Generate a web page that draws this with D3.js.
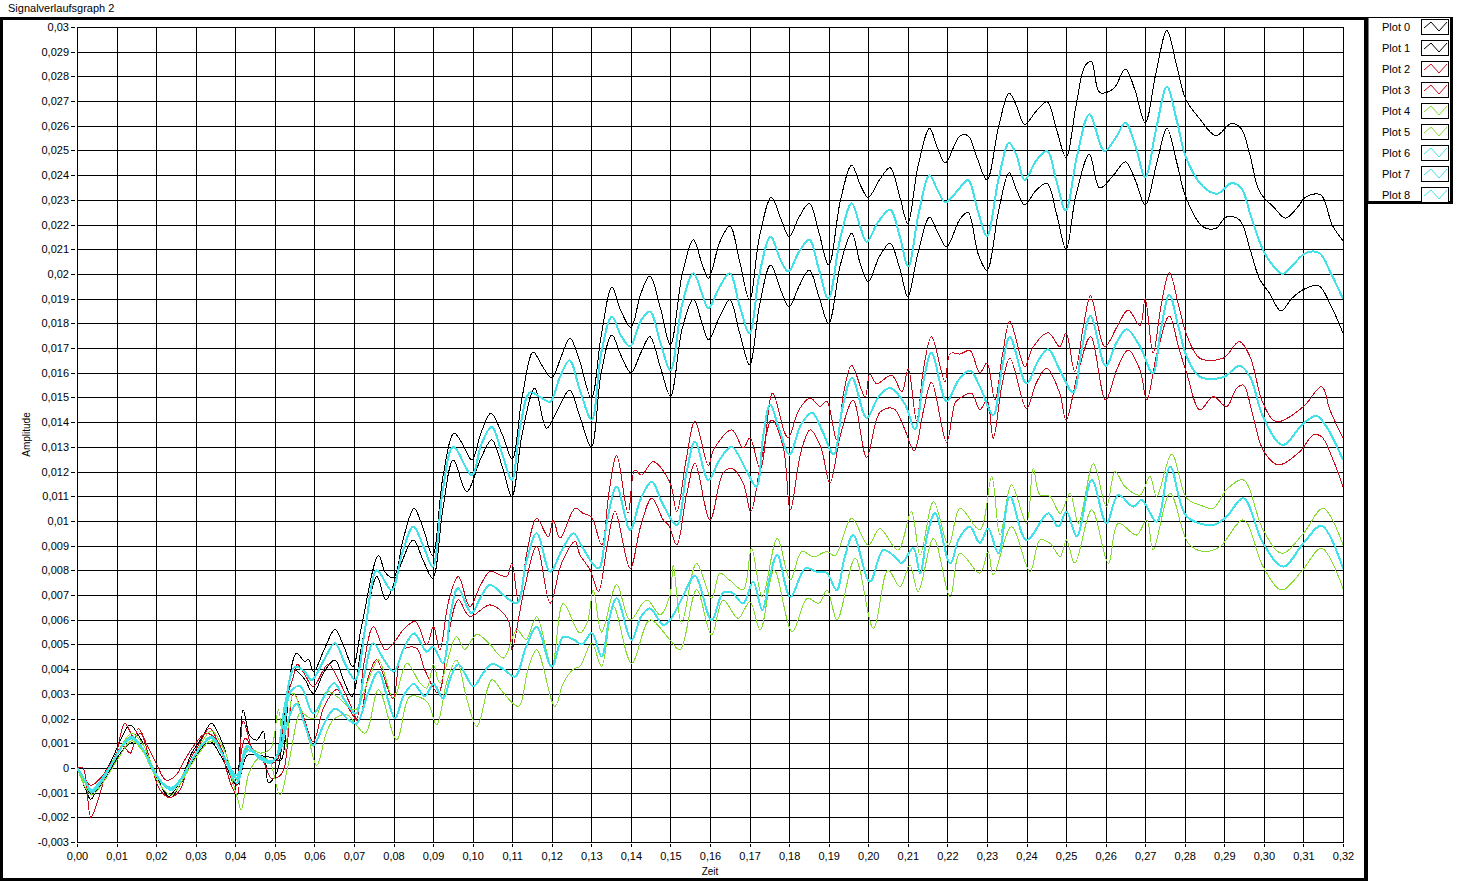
<!DOCTYPE html>
<html>
<head>
<meta charset="utf-8">
<script src="https://cdn.jsdelivr.net/npm/d3@7"></script>
<style>
  html, body { margin: 0; padding: 0; background: #ffffff; }
  svg { display: block; }
  text { font-family: "Liberation Sans", Arial, sans-serif; fill: #000; }
</style>
</head>
<body>
<svg id="chart" width="1465" height="881"></svg>
<script>
// ---------------- DATA ----------------
const chartTitle = "Signalverlaufsgraph 2";
const xAxisTitle = "Zeit";
const yAxisTitle = "Amplitude";

const xTickLabels = ["0,00","0,01","0,02","0,03","0,04","0,05","0,06","0,07","0,08","0,09","0,10",
  "0,11","0,12","0,13","0,14","0,15","0,16","0,17","0,18","0,19","0,20","0,21","0,22","0,23",
  "0,24","0,25","0,26","0,27","0,28","0,29","0,30","0,31","0,32"];
const yTickLabels = ["0,03","0,029","0,028","0,027","0,026","0,025","0,024","0,023","0,022","0,021",
  "0,02","0,019","0,018","0,017","0,016","0,015","0,014","0,013","0,012","0,011","0,01","0,009",
  "0,008","0,007","0,006","0,005","0,004","0,003","0,002","0,001","0","-0,001","-0,002","-0,003"];

const seriesNames = ["Plot 0","Plot 1","Plot 2","Plot 3","Plot 4","Plot 5","Plot 6","Plot 7","Plot 8"];
const seriesColors = ["#000000","#000000","#c80c1c","#c80c1c","#84dc30","#84dc30","#40e2e8","#40e2e8","#40e2e8"];

// Plot 0 : black, upper
const plot0 = [[0,0],[0.002,-0.0008],[0.0035,-0.00127],[0.006,-0.0005],[0.009,0.0004],[0.0115,0.0013],[0.0134,0.00174],[0.016,0.0012],[0.019,0.0001],[0.0215,-0.0008],[0.0231,-0.00116],[0.0262,-0.0005],[0.029,0.0006],[0.0315,0.0012],[0.034,0.0018],[0.037,0.0009],[0.0402,-0.0007],[0.042,0.00235],[0.0437,0.0013],[0.0454,0.00113],[0.0471,0.00147],[0.0484,-0.0006],[0.0505,-0.0002],[0.053,0.0028],[0.0555,0.00465],[0.0576,0.0043],[0.0585,0.0044],[0.0598,0.0039],[0.0625,0.0048],[0.0652,0.0056],[0.0675,0.0049],[0.0697,0.0041],[0.072,0.0058],[0.0762,0.0086],[0.078,0.0079],[0.08,0.0077],[0.0825,0.0093],[0.0852,0.0105],[0.0875,0.0097],[0.0899,0.0086],[0.0925,0.0118],[0.0953,0.01355],[0.0975,0.0131],[0.0998,0.01247],[0.1022,0.0136],[0.1046,0.01436],[0.1075,0.0135],[0.11,0.0125],[0.1125,0.015],[0.1153,0.01684],[0.1175,0.0163],[0.12,0.0158],[0.1225,0.0167],[0.1246,0.0174],[0.1271,0.01645],[0.13,0.01497],[0.1325,0.0175],[0.1352,0.01946],[0.1375,0.0185],[0.14,0.01784],[0.1425,0.0192],[0.1448,0.01992],[0.1475,0.0186],[0.15,0.01713],[0.153,0.02],[0.1558,0.02138],[0.158,0.0204],[0.1596,0.01983],[0.1625,0.0213],[0.165,0.02194],[0.1675,0.0205],[0.17,0.01895],[0.1725,0.0215],[0.1755,0.0231],[0.178,0.0222],[0.18,0.02151],[0.1825,0.0223],[0.1851,0.02286],[0.1875,0.0217],[0.19,0.02036],[0.193,0.023],[0.1958,0.0244],[0.198,0.0236],[0.2,0.0231],[0.2028,0.0238],[0.2055,0.0243],[0.208,0.0231],[0.21,0.02205],[0.2125,0.0243],[0.2155,0.0259],[0.2175,0.0251],[0.2195,0.0245],[0.2231,0.02558],[0.2252,0.0256],[0.2275,0.0247],[0.23,0.0238],[0.233,0.026],[0.2356,0.02732],[0.2375,0.0268],[0.2395,0.02605],[0.2425,0.0266],[0.2452,0.02697],[0.2475,0.0259],[0.25,0.02472],[0.2525,0.0268],[0.2548,0.02843],[0.2564,0.0286],[0.2585,0.02735],[0.262,0.0275],[0.265,0.0283],[0.2675,0.0274],[0.27,0.02612],[0.2728,0.0282],[0.2755,0.02985],[0.278,0.0284],[0.2803,0.02706],[0.2837,0.0263],[0.2879,0.0256],[0.2917,0.02609],[0.2942,0.0259],[0.2965,0.0248],[0.2989,0.02334],[0.3025,0.0227],[0.3055,0.02226],[0.3085,0.0227],[0.3106,0.02312],[0.3144,0.0232],[0.3173,0.02197],[0.32,0.02135]];

// Plot 1 : black, lower
const plot1 = [[0,0],[0.002,-0.0006],[0.0037,-0.0011],[0.006,-0.0007],[0.009,0.0001],[0.012,0.0008],[0.0147,0.00107],[0.017,0.0007],[0.0195,-0.0001],[0.0215,-0.0008],[0.0236,-0.0012],[0.026,-0.0007],[0.029,0.0002],[0.0315,0.0008],[0.0337,0.00107],[0.037,0.0003],[0.0404,-0.0007],[0.043,0.0005],[0.046,0.0005],[0.0497,0.0004],[0.0515,0.0003],[0.0547,0.00397],[0.0575,0.0036],[0.0597,0.00302],[0.0625,0.0039],[0.0652,0.00437],[0.0675,0.0035],[0.0695,0.00289],[0.072,0.005],[0.0758,0.00775],[0.0781,0.0068],[0.0815,0.0081],[0.085,0.00923],[0.0875,0.0084],[0.0899,0.00768],[0.0925,0.0105],[0.0951,0.01247],[0.0985,0.01119],[0.102,0.0125],[0.1048,0.01328],[0.1075,0.0122],[0.1099,0.01098],[0.1125,0.0135],[0.1157,0.01537],[0.1187,0.01375],[0.1215,0.0145],[0.1245,0.0153],[0.1271,0.01422],[0.13,0.013],[0.1325,0.016],[0.1352,0.01753],[0.1375,0.0167],[0.14,0.016],[0.1425,0.0168],[0.1448,0.01746],[0.1475,0.0162],[0.15,0.01506],[0.153,0.0178],[0.1558,0.01898],[0.158,0.018],[0.1596,0.01733],[0.1625,0.0183],[0.165,0.01895],[0.1675,0.0176],[0.17,0.01632],[0.1725,0.0187],[0.1753,0.02036],[0.178,0.0193],[0.18,0.01867],[0.1825,0.0195],[0.1851,0.02016],[0.1875,0.0191],[0.19,0.018],[0.193,0.0204],[0.1958,0.02165],[0.198,0.0204],[0.2,0.01969],[0.2028,0.0207],[0.2055,0.02124],[0.208,0.0202],[0.21,0.01908],[0.2125,0.0208],[0.2155,0.0223],[0.2175,0.0217],[0.2198,0.0211],[0.2231,0.0222],[0.2252,0.0225],[0.2278,0.0208],[0.23,0.02015],[0.233,0.0226],[0.2356,0.0241],[0.2375,0.0234],[0.2395,0.0228],[0.2425,0.0234],[0.2452,0.02367],[0.2475,0.0225],[0.25,0.021],[0.2525,0.0232],[0.2559,0.02484],[0.2585,0.02348],[0.262,0.024],[0.265,0.02454],[0.2675,0.0238],[0.27,0.0228],[0.2728,0.0244],[0.2755,0.02589],[0.278,0.0245],[0.2803,0.0231],[0.2845,0.02192],[0.2879,0.02185],[0.2904,0.0223],[0.2938,0.0222],[0.2965,0.021],[0.2989,0.0198],[0.3015,0.0192],[0.3043,0.0185],[0.307,0.019],[0.31,0.01937],[0.3138,0.01953],[0.317,0.0187],[0.32,0.0176]];

// Plot 2 : red, upper
const plot2 = [[0,0],[0.0035,-0.0007],[0.006,-0.0004],[0.009,0.0003],[0.0115,0.0009],[0.0135,0.0006],[0.0155,0.0016],[0.0175,0.001],[0.02,0.0002],[0.0225,-0.0005],[0.025,-0.0003],[0.0275,0.0004],[0.03,0.001],[0.0325,0.0014],[0.035,0.0012],[0.0375,0.0004],[0.04,-0.0008],[0.0425,0.0012],[0.045,0.0006],[0.048,0.0002],[0.0505,0.0003],[0.0525,0.0025],[0.0547,0.0037],[0.0557,0.0042],[0.0575,0.0038],[0.0597,0.0033],[0.0635,0.0042],[0.066,0.0036],[0.069,0.0026],[0.0707,0.002],[0.0725,0.0042],[0.0749,0.00572],[0.0779,0.00478],[0.08,0.00505],[0.0825,0.0056],[0.0855,0.00593],[0.0884,0.00498],[0.0901,0.00572],[0.0917,0.00478],[0.094,0.0068],[0.0964,0.00775],[0.0993,0.00653],[0.102,0.0074],[0.1044,0.00795],[0.1086,0.00775],[0.1099,0.00829],[0.1116,0.00672],[0.1138,0.0088],[0.1162,0.0101],[0.1191,0.00936],[0.1204,0.01004],[0.1221,0.0093],[0.1259,0.01051],[0.128,0.0103],[0.13,0.01017],[0.1326,0.00903],[0.1345,0.0112],[0.1364,0.01267],[0.1393,0.01031],[0.141,0.01206],[0.1427,0.01186],[0.1456,0.0124],[0.1498,0.01159],[0.1516,0.01038],[0.154,0.0125],[0.1562,0.01403],[0.1596,0.01224],[0.1609,0.01288],[0.1655,0.01369],[0.1684,0.01295],[0.1701,0.01336],[0.1727,0.0121],[0.1758,0.01518],[0.1789,0.01356],[0.1798,0.01336],[0.1825,0.0145],[0.1853,0.01498],[0.1878,0.01464],[0.1895,0.01484],[0.192,0.01329],[0.1938,0.0152],[0.1958,0.0163],[0.1992,0.01502],[0.2004,0.01596],[0.2021,0.01556],[0.2059,0.0159],[0.2085,0.01523],[0.2101,0.01617],[0.2122,0.01408],[0.214,0.0162],[0.216,0.01746],[0.2194,0.01563],[0.2207,0.01678],[0.2232,0.01676],[0.2257,0.0169],[0.2282,0.016],[0.23,0.0164],[0.232,0.0149],[0.234,0.0168],[0.2358,0.01807],[0.2396,0.01625],[0.2415,0.017],[0.2455,0.01762],[0.2484,0.01706],[0.25,0.0176],[0.2522,0.01605],[0.2545,0.018],[0.2562,0.01911],[0.2598,0.01706],[0.263,0.0179],[0.2657,0.01854],[0.2687,0.0179],[0.27,0.019],[0.272,0.01679],[0.274,0.0187],[0.2761,0.02005],[0.2785,0.0187],[0.2805,0.01753],[0.2838,0.01659],[0.2897,0.01659],[0.2938,0.01726],[0.2965,0.01665],[0.2998,0.01476],[0.3032,0.01402],[0.31,0.01463],[0.3146,0.01544],[0.3167,0.01449],[0.32,0.01335]];

// Plot 3 : red, lower
const plot3 = [[0,0],[0.0015,0],[0.0035,-0.002],[0.0055,-0.0012],[0.0075,-0.0002],[0.0095,0.0003],[0.0121,0.0018],[0.0145,0.0012],[0.016,0.0014],[0.0185,0.0003],[0.021,-0.0009],[0.0235,-0.0012],[0.026,-0.0009],[0.0285,0.0003],[0.031,0.001],[0.0335,0.0016],[0.036,0.0009],[0.039,-0.0007],[0.0405,-0.0011],[0.042,0.0019],[0.0445,0.0007],[0.047,0.0003],[0.049,-0.0004],[0.0505,-0.0004],[0.0522,-0.0001],[0.0547,0.00303],[0.057,0.0022],[0.0597,0.00107],[0.0625,0.0025],[0.0657,0.00317],[0.068,0.0026],[0.0711,0.0019],[0.0735,0.0036],[0.0757,0.00437],[0.0798,0.00282],[0.0824,0.00478],[0.0858,0.00485],[0.0879,0.00397],[0.0913,0.00303],[0.094,0.0055],[0.0964,0.0068],[0.0993,0.00613],[0.1044,0.0066],[0.109,0.00599],[0.1099,0.00478],[0.113,0.0072],[0.1162,0.00896],[0.1196,0.00667],[0.1225,0.0083],[0.1259,0.00917],[0.1271,0.00863],[0.1297,0.00802],[0.1318,0.00714],[0.134,0.009],[0.136,0.01038],[0.1398,0.00808],[0.1425,0.0098],[0.1453,0.01092],[0.1482,0.01004],[0.1495,0.00984],[0.1516,0.00903],[0.154,0.011],[0.1562,0.01233],[0.16,0.01004],[0.1633,0.01193],[0.1655,0.01213],[0.1684,0.01153],[0.1703,0.01038],[0.173,0.0125],[0.1756,0.01409],[0.1785,0.013],[0.1803,0.01044],[0.183,0.0128],[0.1853,0.01369],[0.188,0.013],[0.1903,0.01153],[0.193,0.0135],[0.1962,0.01489],[0.1996,0.01258],[0.203,0.01441],[0.2064,0.01455],[0.209,0.0138],[0.2116,0.01285],[0.214,0.0145],[0.216,0.01562],[0.2198,0.01319],[0.222,0.0148],[0.2232,0.01497],[0.2261,0.01517],[0.2282,0.0145],[0.23,0.0149],[0.2316,0.01335],[0.2338,0.0155],[0.2358,0.01659],[0.24,0.01456],[0.2425,0.0156],[0.2451,0.01618],[0.2484,0.01517],[0.25,0.01409],[0.253,0.016],[0.2562,0.01746],[0.26,0.0149],[0.263,0.0162],[0.2657,0.01692],[0.2687,0.01611],[0.2704,0.0149],[0.273,0.0168],[0.2761,0.0183],[0.2785,0.017],[0.2805,0.01598],[0.2838,0.0145],[0.2872,0.01503],[0.2906,0.01463],[0.2931,0.01537],[0.2948,0.0155],[0.2973,0.01422],[0.2998,0.01287],[0.3036,0.01227],[0.3091,0.01281],[0.3125,0.01348],[0.3146,0.01341],[0.3175,0.01247],[0.32,0.01139]];

// Plot 4 : green, upper
const plot4 = [[0,0],[0.0037,-0.0009],[0.007,-0.0003],[0.0105,0.0007],[0.0138,0.0014],[0.0165,0.001],[0.019,0.0001],[0.0215,-0.0006],[0.024,-0.0009],[0.027,-0.0002],[0.03,0.0006],[0.034,0.0015],[0.037,0.0008],[0.0405,-0.0005],[0.043,0.0008],[0.0465,0.0006],[0.049,0.0008],[0.0509,0.00235],[0.0525,0.0006],[0.0547,0.00303],[0.0572,0.00222],[0.06,0.002],[0.0631,0.00309],[0.0657,0.00289],[0.0703,0.00235],[0.0735,0.0035],[0.0762,0.00437],[0.08,0.00282],[0.0834,0.00424],[0.0867,0.00343],[0.0884,0.00323],[0.0901,0.00417],[0.0917,0.00343],[0.0959,0.00532],[0.098,0.0048],[0.1011,0.00541],[0.1044,0.005],[0.1078,0.00445],[0.1112,0.00559],[0.1135,0.0052],[0.1162,0.00612],[0.12,0.0041],[0.1229,0.00666],[0.1271,0.00546],[0.129,0.0059],[0.1305,0.0072],[0.1326,0.0055],[0.1364,0.00741],[0.1398,0.00599],[0.144,0.0068],[0.1474,0.0062],[0.1499,0.007],[0.1507,0.00822],[0.1528,0.00586],[0.1566,0.00828],[0.1604,0.00687],[0.1625,0.00788],[0.165,0.0076],[0.1684,0.00721],[0.1705,0.00889],[0.1732,0.00693],[0.177,0.00929],[0.1803,0.00761],[0.1832,0.00876],[0.1862,0.00855],[0.1895,0.00876],[0.1916,0.0086],[0.1958,0.0101],[0.2,0.00902],[0.2029,0.00969],[0.2075,0.00882],[0.2109,0.01038],[0.2131,0.00862],[0.2165,0.01078],[0.2203,0.00902],[0.2232,0.01051],[0.2282,0.00964],[0.2312,0.0118],[0.2333,0.00943],[0.2362,0.01146],[0.24,0.00991],[0.2417,0.01213],[0.2434,0.01105],[0.2459,0.01099],[0.2485,0.01031],[0.251,0.01112],[0.2531,0.00991],[0.2569,0.01231],[0.2602,0.01058],[0.2624,0.012],[0.2649,0.01139],[0.2687,0.01105],[0.2712,0.0118],[0.2729,0.01099],[0.2767,0.01271],[0.2805,0.01092],[0.2838,0.01065],[0.2872,0.01051],[0.2906,0.01128],[0.2948,0.01166],[0.2998,0.00964],[0.3045,0.00869],[0.31,0.0095],[0.315,0.01051],[0.32,0.00903]];

// Plot 5 : green, lower
const plot5 = [[0,0],[0.0037,-0.0011],[0.007,-0.0005],[0.0105,0.0004],[0.0138,0.0011],[0.0165,0.0007],[0.019,-0.0001],[0.0215,-0.0008],[0.0239,-0.0011],[0.027,-0.0004],[0.03,0.0004],[0.034,0.0011],[0.0375,0.0003],[0.0405,-0.0012],[0.0415,-0.0017],[0.0435,-0.0002],[0.046,0.0004],[0.0485,0.0003],[0.0513,-0.0011],[0.0535,0.0002],[0.0564,0.00222],[0.0585,0.0012],[0.0606,0.0001],[0.063,0.0014],[0.0648,0.00195],[0.0682,0.00215],[0.0728,0.00141],[0.0762,0.00316],[0.0808,0.00114],[0.0842,0.00289],[0.0884,0.00269],[0.0909,0.00175],[0.0935,0.0035],[0.0959,0.00437],[0.0985,0.0028],[0.1011,0.00168],[0.1049,0.00357],[0.1078,0.00303],[0.1116,0.00249],[0.114,0.004],[0.1162,0.00478],[0.1208,0.00249],[0.1229,0.00343],[0.1255,0.004],[0.1271,0.00411],[0.1301,0.00505],[0.1326,0.00411],[0.1356,0.00653],[0.1402,0.00424],[0.1448,0.00599],[0.1499,0.00518],[0.1524,0.00478],[0.1566,0.00721],[0.1604,0.00538],[0.1633,0.0068],[0.1671,0.00606],[0.1701,0.00673],[0.1727,0.00558],[0.1762,0.00801],[0.1808,0.00552],[0.1846,0.00687],[0.1875,0.00666],[0.1896,0.00721],[0.1921,0.00599],[0.1967,0.00849],[0.2013,0.00565],[0.205,0.00801],[0.208,0.00734],[0.2105,0.00822],[0.2126,0.00714],[0.2165,0.00929],[0.2207,0.00693],[0.2232,0.00869],[0.2282,0.00788],[0.2303,0.00876],[0.2316,0.00781],[0.2362,0.00977],[0.2409,0.00795],[0.2434,0.00923],[0.2459,0.0091],[0.2485,0.00856],[0.2501,0.00923],[0.2522,0.00829],[0.2565,0.01045],[0.2607,0.00829],[0.2632,0.00991],[0.2678,0.00943],[0.2704,0.01004],[0.272,0.00883],[0.2763,0.01112],[0.2809,0.0091],[0.2847,0.00876],[0.2889,0.00896],[0.2948,0.01004],[0.2998,0.00815],[0.3045,0.00721],[0.3095,0.00795],[0.3146,0.00889],[0.32,0.00727]];

// Plot 6 : cyan, mean of black pair
const plot6 = [[0,0],[0.002,-0.0005],[0.0037,-0.00096],[0.006,-0.0006],[0.009,0.0002],[0.0115,0.0009],[0.0138,0.00127],[0.0165,0.0008],[0.019,0],[0.0215,-0.0006],[0.0239,-0.00082],[0.0265,-0.0004],[0.029,0.0003],[0.0315,0.0009],[0.034,0.00127],[0.037,0.0005],[0.0404,-0.0004],[0.0429,0.00086],[0.046,0.00046],[0.0497,0.0003],[0.0525,0.0025],[0.0551,0.0041],[0.0575,0.0039],[0.0593,0.00356],[0.0625,0.0044],[0.0652,0.00505],[0.0678,0.0042],[0.0703,0.00356],[0.073,0.0058],[0.0758,0.008],[0.0795,0.0072],[0.0822,0.0087],[0.085,0.00977],[0.0875,0.009],[0.0899,0.00815],[0.0925,0.0113],[0.0951,0.013],[0.0998,0.01186],[0.1022,0.0131],[0.1048,0.0138],[0.1075,0.0127],[0.1099,0.01166],[0.112,0.0138],[0.1145,0.0152],[0.1172,0.015],[0.1196,0.01483],[0.122,0.0158],[0.1245,0.0165],[0.1271,0.0153],[0.1301,0.0141],[0.1325,0.0168],[0.1352,0.01827],[0.1375,0.0175],[0.1398,0.01706],[0.1425,0.0181],[0.1448,0.01848],[0.1475,0.0172],[0.15,0.0161],[0.153,0.0188],[0.1558,0.02003],[0.158,0.0192],[0.1596,0.01861],[0.1625,0.0195],[0.165,0.02003],[0.1675,0.0187],[0.17,0.0176],[0.1725,0.02],[0.1753,0.0215],[0.178,0.0205],[0.1798,0.0201],[0.1825,0.0209],[0.1851,0.02138],[0.1875,0.0202],[0.1899,0.019],[0.193,0.0215],[0.1958,0.02286],[0.198,0.0219],[0.1996,0.0213],[0.2025,0.0221],[0.2055,0.0226],[0.208,0.0215],[0.2101,0.0203],[0.2128,0.0225],[0.2155,0.024],[0.2175,0.0234],[0.2195,0.0229],[0.2231,0.02348],[0.2252,0.0238],[0.2278,0.0225],[0.23,0.02154],[0.233,0.0239],[0.2356,0.02531],[0.2375,0.0248],[0.2395,0.0238],[0.2425,0.0246],[0.2452,0.02498],[0.2475,0.0238],[0.2499,0.02257],[0.2528,0.0248],[0.2559,0.02646],[0.2597,0.02498],[0.2625,0.0255],[0.265,0.02612],[0.2675,0.0252],[0.27,0.02392],[0.2728,0.0259],[0.2755,0.02758],[0.278,0.0262],[0.2803,0.02473],[0.2845,0.02356],[0.2883,0.02325],[0.2917,0.02367],[0.2942,0.0235],[0.2968,0.0223],[0.2997,0.021],[0.3025,0.0203],[0.3047,0.02],[0.3075,0.0204],[0.3106,0.02085],[0.314,0.02085],[0.317,0.02],[0.32,0.019]];

// Plot 7 : cyan, mean of red pair
const plot7 = [[0,0],[0.002,-0.0005],[0.0037,-0.0009],[0.006,-0.0005],[0.009,0.0002],[0.0115,0.0009],[0.014,0.0012],[0.0165,0.0008],[0.019,0],[0.0215,-0.0006],[0.024,-0.0008],[0.0265,-0.0004],[0.029,0.0003],[0.0315,0.0009],[0.034,0.0012],[0.037,0.0005],[0.0404,-0.0003],[0.043,0.0009],[0.046,0.0004],[0.049,0.0002],[0.0515,0.0008],[0.054,0.0031],[0.0565,0.0033],[0.0597,0.0022],[0.0625,0.0029],[0.065,0.00343],[0.0678,0.0027],[0.0705,0.0022],[0.0725,0.0037],[0.0749,0.00505],[0.0775,0.0044],[0.0801,0.0039],[0.0825,0.0048],[0.0852,0.00545],[0.0884,0.00471],[0.09,0.0049],[0.0925,0.00424],[0.0945,0.0063],[0.0963,0.00728],[0.0997,0.00627],[0.102,0.0069],[0.1044,0.00741],[0.1078,0.007],[0.1112,0.00667],[0.1135,0.0083],[0.1162,0.0095],[0.1196,0.00795],[0.1225,0.0088],[0.1255,0.0095],[0.1275,0.009],[0.1318,0.00808],[0.134,0.01],[0.1364,0.01139],[0.1398,0.00964],[0.1425,0.0109],[0.1453,0.01159],[0.148,0.0107],[0.1516,0.00984],[0.154,0.0119],[0.1562,0.01321],[0.1596,0.01166],[0.1625,0.0125],[0.1655,0.013],[0.169,0.0121],[0.1717,0.01139],[0.1735,0.0135],[0.1752,0.01472],[0.1775,0.0137],[0.1801,0.01269],[0.183,0.0139],[0.1858,0.01438],[0.1885,0.0136],[0.1913,0.01269],[0.1935,0.0146],[0.1959,0.01579],[0.1996,0.01417],[0.2025,0.015],[0.2055,0.01538],[0.2093,0.01472],[0.2118,0.0137],[0.214,0.0157],[0.216,0.0168],[0.2198,0.01485],[0.2228,0.0157],[0.2257,0.01609],[0.2282,0.01544],[0.2316,0.01429],[0.2338,0.0162],[0.2358,0.01744],[0.24,0.01557],[0.243,0.0165],[0.2455,0.01695],[0.2484,0.01611],[0.2518,0.0152],[0.254,0.017],[0.2562,0.0183],[0.26,0.01628],[0.2627,0.0172],[0.2653,0.01776],[0.2687,0.01706],[0.2719,0.01598],[0.274,0.0178],[0.2761,0.01915],[0.2785,0.0178],[0.2805,0.01665],[0.2838,0.01584],[0.2897,0.01582],[0.2939,0.01628],[0.2965,0.01584],[0.2998,0.01422],[0.3047,0.01308],[0.31,0.01395],[0.3133,0.01425],[0.3158,0.01382],[0.32,0.01247]];

// Plot 8 : cyan, mean of green pair
const plot8 = [[0,0],[0.002,-0.0005],[0.0037,-0.001],[0.006,-0.0006],[0.009,0.0002],[0.0115,0.0009],[0.0138,0.0012],[0.0165,0.0008],[0.019,0],[0.0215,-0.0006],[0.0239,-0.0009],[0.0265,-0.0004],[0.029,0.0003],[0.0315,0.0009],[0.034,0.0012],[0.037,0.0005],[0.0404,-0.0006],[0.043,0.0007],[0.046,0.0005],[0.0488,0.0002],[0.0513,0.0007],[0.0535,0.002],[0.0555,0.0026],[0.0575,0.0018],[0.0597,0.0009],[0.0625,0.0018],[0.0652,0.0024],[0.069,0.0019],[0.0707,0.0018],[0.0735,0.003],[0.0762,0.0039],[0.0785,0.0028],[0.0804,0.002],[0.0825,0.0029],[0.0851,0.0034],[0.0879,0.0029],[0.0901,0.0034],[0.0926,0.0028],[0.0945,0.0037],[0.0964,0.0042],[0.1002,0.0033],[0.1025,0.0038],[0.1049,0.0042],[0.1078,0.004],[0.1107,0.0037],[0.1135,0.0049],[0.1162,0.0057],[0.12,0.0041],[0.1229,0.0053],[0.1255,0.0052],[0.1276,0.005],[0.1301,0.00546],[0.1326,0.00451],[0.1345,0.006],[0.1364,0.00687],[0.1402,0.00518],[0.1425,0.0061],[0.1448,0.00646],[0.1482,0.00579],[0.1499,0.00599],[0.153,0.0069],[0.1562,0.00777],[0.1604,0.00599],[0.1633,0.0071],[0.1655,0.0071],[0.1684,0.00666],[0.1709,0.00754],[0.1732,0.00639],[0.1752,0.0078],[0.177,0.00862],[0.1803,0.00693],[0.1841,0.00808],[0.187,0.00794],[0.1895,0.0079],[0.192,0.0072],[0.194,0.0085],[0.1962,0.00943],[0.2004,0.00754],[0.2038,0.00882],[0.2071,0.00849],[0.2084,0.00828],[0.2114,0.0089],[0.2131,0.00788],[0.215,0.0095],[0.2169,0.01031],[0.2207,0.00828],[0.223,0.0093],[0.2257,0.00977],[0.2282,0.0091],[0.2303,0.0097],[0.2329,0.00869],[0.2358,0.01099],[0.24,0.00923],[0.2455,0.01031],[0.248,0.00977],[0.2501,0.01038],[0.2527,0.00937],[0.2565,0.01166],[0.2602,0.00991],[0.2632,0.01105],[0.267,0.01058],[0.2691,0.01085],[0.2729,0.00997],[0.2763,0.0122],[0.2805,0.01018],[0.2872,0.00984],[0.2906,0.01018],[0.2948,0.01092],[0.2998,0.0091],[0.3049,0.00815],[0.31,0.0091],[0.3146,0.0098],[0.32,0.00808]];

const seriesData = [plot0, plot1, plot2, plot3, plot4, plot5, plot6, plot7, plot8];
const seriesWidths = [1, 1, 1, 1, 1, 1, 2, 2, 2];

// ---------------- CHART ----------------
const svg = d3.select("#chart");
const plot = { left: 77, right: 1343, top: 27, bottom: 842 };

const parseNum = s => +s.replace(",", ".");
const xTickValues = xTickLabels.map(parseNum);
const yTickValues = yTickLabels.map(parseNum);

const x = d3.scaleLinear().domain([0, 0.32]).range([plot.left, plot.right]);
const y = d3.scaleLinear().domain([-0.003, 0.03]).range([plot.bottom, plot.top]);

svg.append("rect").attr("x", 0).attr("y", 0).attr("width", 1465).attr("height", 881).attr("fill", "#ffffff");
svg.append("rect")
  .attr("x", 1.5).attr("y", 18.5).attr("width", 1364).attr("height", 861)
  .attr("fill", "none").attr("stroke", "#000").attr("stroke-width", 3);

svg.append("text").attr("x", 8).attr("y", 12).attr("font-size", 11).text(chartTitle);

const grid = svg.append("g").attr("shape-rendering", "crispEdges");
grid.selectAll("line.vx").data(xTickValues).enter().append("line")
  .attr("x1", d => Math.round(x(d)) + 0.5).attr("x2", d => Math.round(x(d)) + 0.5)
  .attr("y1", plot.top).attr("y2", plot.bottom + 5)
  .attr("stroke", "#000").attr("stroke-width", 1);
grid.selectAll("line.hy").data(yTickValues).enter().append("line")
  .attr("y1", d => Math.round(y(d)) + 0.5).attr("y2", d => Math.round(y(d)) + 0.5)
  .attr("x1", plot.left - 6).attr("x2", plot.right)
  .attr("stroke", "#000").attr("stroke-width", 1);
grid.selectAll("line.gx").data(yTickValues).enter().append("line")
  .attr("y1", d => Math.round(y(d)) + 0.5).attr("y2", d => Math.round(y(d)) + 0.5)
  .attr("x1", plot.left - 2).attr("x2", plot.left)
  .attr("stroke", "#fff").attr("stroke-width", 1);
grid.selectAll("line.gy").data(xTickValues).enter().append("line")
  .attr("x1", d => Math.round(x(d)) + 0.5).attr("x2", d => Math.round(x(d)) + 0.5)
  .attr("y1", plot.bottom + 1).attr("y2", plot.bottom + 2)
  .attr("stroke", "#fff").attr("stroke-width", 1);

svg.append("g").selectAll("text").data(yTickLabels).enter().append("text")
  .attr("x", plot.left - 8).attr("y", (d, i) => y(yTickValues[i]) + 4)
  .attr("text-anchor", "end").attr("font-size", 11).text(d => d);
svg.append("g").selectAll("text").data(xTickLabels).enter().append("text")
  .attr("x", (d, i) => x(xTickValues[i]) + 0.5).attr("y", plot.bottom + 18)
  .attr("text-anchor", "middle").attr("font-size", 11).text(d => d);

svg.append("text").attr("font-size", 10).attr("text-anchor", "middle")
  .attr("transform", `translate(30,${(plot.top + plot.bottom) / 2}) rotate(-90)`).text(yAxisTitle);
svg.append("text").attr("font-size", 10).attr("text-anchor", "middle")
  .attr("x", (plot.left + plot.right) / 2).attr("y", 875).text(xAxisTitle);

svg.append("clipPath").attr("id", "plotclip").append("rect")
  .attr("x", plot.left).attr("y", plot.top).attr("width", plot.right - plot.left).attr("height", plot.bottom - plot.top);

const line = d3.line().x(d => x(d[0])).y(d => y(d[1])).curve(d3.curveCatmullRom.alpha(0.5));
svg.append("g").attr("clip-path", "url(#plotclip)")
  .selectAll("path").data(seriesData).enter().append("path")
  .attr("d", d => line(d))
  .attr("fill", "none")
  .attr("stroke", (d, i) => seriesColors[i])
  .attr("stroke-width", (d, i) => seriesWidths[i])
  .attr("stroke-linejoin", "round")
  .attr("shape-rendering", "crispEdges");

const lg = svg.append("g");
lg.append("rect").attr("x", 1368).attr("y", 17.5).attr("width", 83).attr("height", 185)
  .attr("fill", "#fff").attr("stroke", "#000").attr("stroke-width", 1);
lg.append("line").attr("x1", 1451.5).attr("x2", 1451.5).attr("y1", 17).attr("y2", 204).attr("stroke", "#000").attr("stroke-width", 3);
lg.append("line").attr("x1", 1366).attr("x2", 1453).attr("y1", 202.5).attr("y2", 202.5).attr("stroke", "#000").attr("stroke-width", 3);
lg.append("line").attr("x1", 1366.5).attr("x2", 1366.5).attr("y1", 17).attr("y2", 881).attr("stroke", "#000").attr("stroke-width", 3);

const rowY = i => 27 + i * 21;
const rows = lg.selectAll("g.row").data(seriesNames).enter().append("g");
rows.append("text").attr("x", 1382).attr("y", (d, i) => rowY(i) + 4).attr("font-size", 11).text(d => d);
rows.append("rect").attr("x", 1421.5).attr("y", (d, i) => rowY(i) - 7.5).attr("width", 27).attr("height", 15)
  .attr("fill", "#fff").attr("stroke", "#000").attr("stroke-width", 1);
const iconLine = d3.line();
rows.append("path")
  .attr("d", (d, i) => iconLine([[1424, rowY(i) + 1], [1431, rowY(i) - 5], [1439, rowY(i) + 4], [1447, rowY(i) - 5]]))
  .attr("fill", "none").attr("stroke", (d, i) => seriesColors[i]).attr("stroke-width", 1);
</script>
</body>
</html>
